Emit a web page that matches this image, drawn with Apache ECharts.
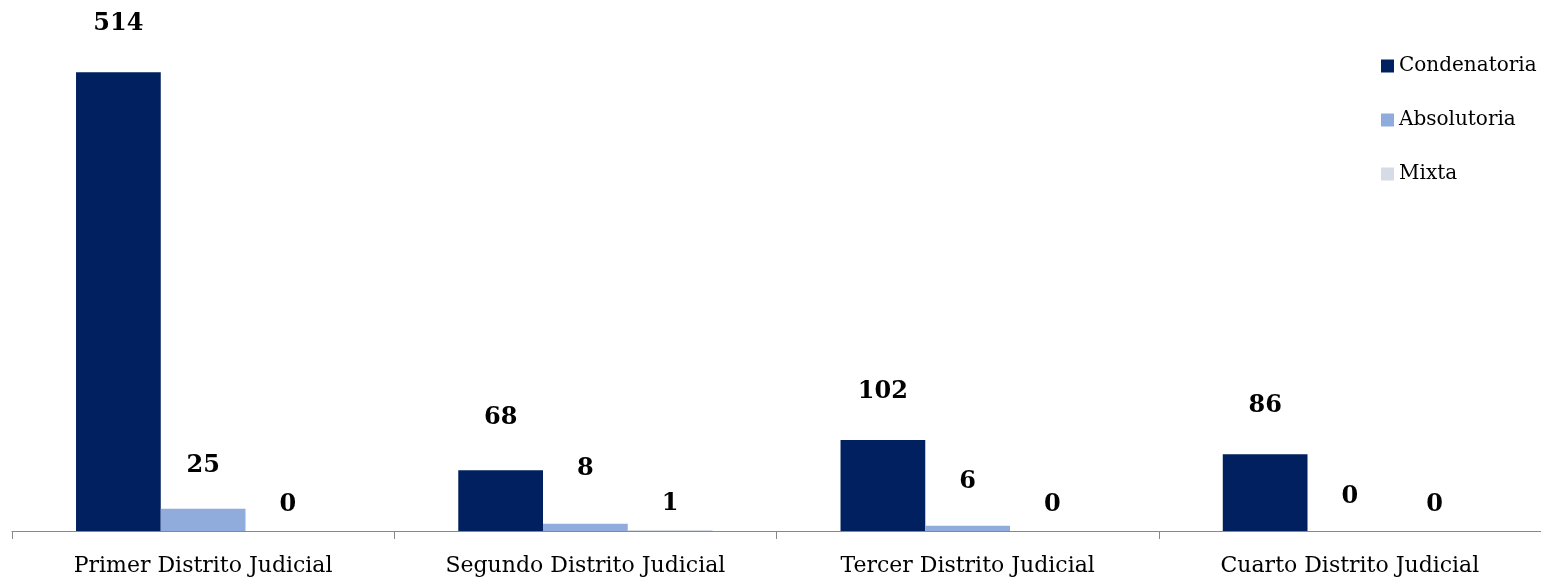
<!DOCTYPE html>
<html><head><meta charset="utf-8">
<script src="https://cdn.jsdelivr.net/npm/echarts@6/dist/echarts.min.js"></script>
<style>html,body{margin:0;padding:0;background:#fff}#c{width:1541px;height:579px}</style>
</head><body><div id="c"></div>
<script>
const categories = ['Primer Distrito Judicial','Segundo Distrito Judicial','Tercer Distrito Judicial','Cuarto Distrito Judicial'];
const seriesNames = ['Condenatoria','Absolutoria','Mixta'];
const condenatoria = [514, 68, 102, 86];
const absolutoria = [25, 8, 6, 0];
const mixta = [0, 1, 0, 0];
const colors = ['#00205F','#8FACDC','#D5DCE5'];
const labelLift = [[36,41,36,36],[31,43,32,22],[14,14,14,14]];

const values = [condenatoria, absolutoria, mixta];
const FONT = 'DejaVu Serif';
const chart = echarts.init(document.getElementById('c'));
chart.setOption({
  animation:false,
  color: colors,
  legend:{
    orient:'vertical', left:1376, top:51, itemWidth:13, itemHeight:13, itemGap:34, itemSymbolGap:6,
    icon:'rect', data: seriesNames,
    textStyle:{fontFamily:FONT, fontSize:20, color:'#000'}
  },
  grid:{left:12, top:40, width:1538, bottom:48, containLabel:false},
  xAxis:{
    type:'category', data:categories,
    axisLine:{lineStyle:{color:'#888', width:1}},
    axisTick:{show:true, length:8, lineStyle:{color:'#888', width:1}},
    axisLabel:{fontFamily:FONT, fontSize:22, color:'#000', margin:24}
  },
  yAxis:{type:'value', min:0, max:550, show:false, splitLine:{show:false}},
  series: seriesNames.map((n,i)=>({
    name:n, type:'bar', barGap:'0%', barCategoryGap:'33.5%',
    data: values[i].map((v,j)=>({value:v, label:{distance:labelLift[i][j]}})),
    label:{show:true, position:'top', fontFamily:FONT, fontWeight:'bold', fontSize:24, color:'#000'}
  }))
});
</script></body></html>
